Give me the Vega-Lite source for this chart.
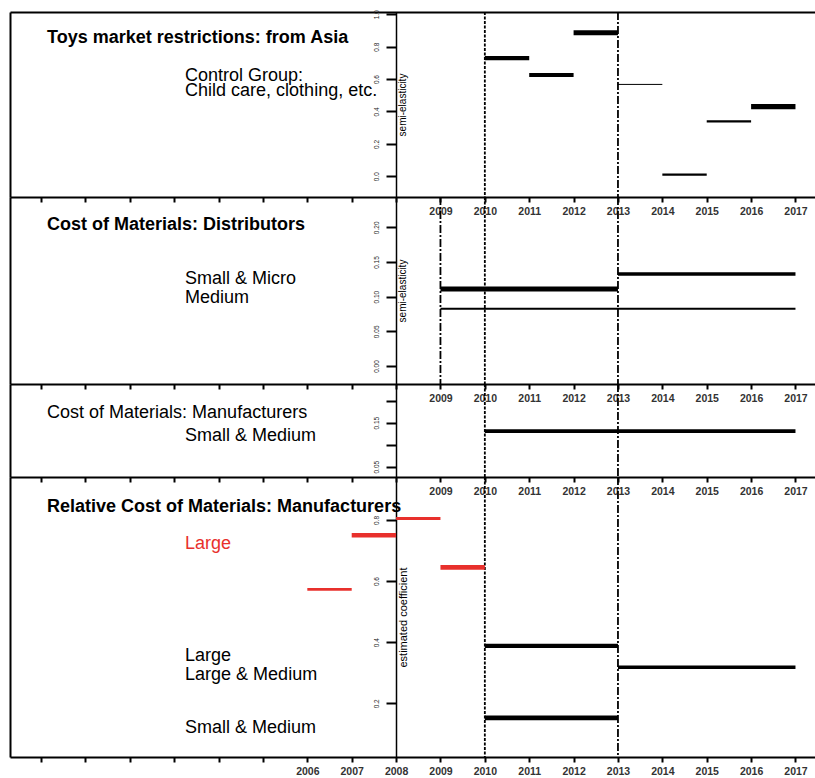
{
  "$schema": "https://vega.github.io/schema/vega-lite/v6.json",
  "padding": {"left": 10, "top": 9, "right": 0, "bottom": 0},
  "autosize": {"type": "pad"},
  "background": "white",
  "spacing": 0,
  "bounds": "flush",
  "config": {
    "view": {"stroke": null},
    "font": "Liberation Sans",
    "text": {"font": "Liberation Sans"},
    "axis": {"grid": false, "domainColor": "black", "tickColor": "black", "labelColor": "#222", "titleColor": "black", "labelFont": "Liberation Sans", "titleFont": "Liberation Sans"},
    "axisX": {"tickSize": 5, "tickWidth": 2, "domainWidth": 2, "labelFontSize": 10.5, "labelFontWeight": "bold", "labelColor": "#333", "labelPadding": 4, "labelFlush": false, "labelOverlap": false},
    "axisY": {"tickSize": 10, "tickWidth": 2, "domainWidth": 1.5, "labelFontSize": 6.5, "labelAngle": 270, "labelAlign": "center", "labelBaseline": "bottom", "labelPadding": 7, "labelOverlap": false, "labelFlush": false, "titleFontSize": 10, "titleFontWeight": "normal", "titleAngle": 270, "titleX": 1, "titleAlign": "center", "titleBaseline": "top"}
  },
  "datasets": {
    "segments": [
      {"panel": 1, "sample": "Toys from Asia", "start": 2010, "end": 2011, "estimate": 0.729, "precision": 4},
      {"panel": 1, "sample": "Toys from Asia", "start": 2011, "end": 2012, "estimate": 0.625, "precision": 4},
      {"panel": 1, "sample": "Toys from Asia", "start": 2012, "end": 2013, "estimate": 0.886, "precision": 5},
      {"panel": 1, "sample": "Toys from Asia", "start": 2013, "end": 2014, "estimate": 0.567, "precision": 1},
      {"panel": 1, "sample": "Toys from Asia", "start": 2014, "end": 2015, "estimate": 0.010, "precision": 2},
      {"panel": 1, "sample": "Toys from Asia", "start": 2015, "end": 2016, "estimate": 0.339, "precision": 2.2},
      {"panel": 1, "sample": "Toys from Asia", "start": 2016, "end": 2017, "estimate": 0.430, "precision": 5},
      {"panel": 2, "sample": "Small & Micro", "start": 2009, "end": 2013, "estimate": 0.111, "precision": 5},
      {"panel": 2, "sample": "Medium", "start": 2009, "end": 2017, "estimate": 0.0826, "precision": 2},
      {"panel": 2, "sample": "Small & Micro", "start": 2013, "end": 2017, "estimate": 0.1326, "precision": 3.5},
      {"panel": 3, "sample": "Small & Medium", "start": 2010, "end": 2017, "estimate": 0.131, "precision": 3.5},
      {"panel": 4, "sample": "Large (2006-2010)", "start": 2006, "end": 2007, "estimate": 0.573, "precision": 2.5},
      {"panel": 4, "sample": "Large (2006-2010)", "start": 2007, "end": 2008, "estimate": 0.750, "precision": 4.5},
      {"panel": 4, "sample": "Large (2006-2010)", "start": 2008, "end": 2009, "estimate": 0.805, "precision": 3},
      {"panel": 4, "sample": "Large (2006-2010)", "start": 2009, "end": 2010, "estimate": 0.645, "precision": 4.5},
      {"panel": 4, "sample": "Large", "start": 2010, "end": 2013, "estimate": 0.388, "precision": 4},
      {"panel": 4, "sample": "Large & Medium", "start": 2013, "end": 2017, "estimate": 0.318, "precision": 3.5},
      {"panel": 4, "sample": "Small & Medium", "start": 2010, "end": 2013, "estimate": 0.152, "precision": 4.5}
    ],
    "events": [
      {"panel": 1, "year": 2010, "event": "restriction"},
      {"panel": 1, "year": 2013, "event": "break"},
      {"panel": 2, "year": 2009, "event": "break"},
      {"panel": 2, "year": 2010, "event": "restriction"},
      {"panel": 2, "year": 2013, "event": "break"},
      {"panel": 3, "year": 2010, "event": "restriction"},
      {"panel": 3, "year": 2013, "event": "break"},
      {"panel": 4, "year": 2010, "event": "restriction"},
      {"panel": 4, "year": 2013, "event": "break"}
    ]
  },
  "vconcat": [
    {
      "width": 805, "height": 185,
      "resolve": {"axis": {"x": "independent", "y": "independent"}},
      "layer": [
        {
          "data": {"name": "events"},
          "transform": [{"filter": "datum.panel === 1"}],
          "mark": {"type": "rule", "strokeWidth": 1.8, "color": "black"},
          "encoding": {
            "x": {"field": "year", "type": "quantitative", "scale": {"domain": [1999.3, 2017.44], "nice": false, "zero": false},
              "axis": {"orient": "top", "ticks": false, "labels": false, "domain": true, "domainWidth": 2, "title": null}},
            "strokeDash": {"field": "event", "type": "nominal", "scale": {"domain": ["restriction", "break"], "range": [[3, 1.5], [8, 2, 2, 2]]}, "legend": null}
          }
        },
        {
          "data": {"name": "segments"},
          "transform": [{"filter": "datum.panel === 1"}],
          "mark": {"type": "rule", "strokeCap": "butt"},
          "encoding": {
            "x": {"field": "start", "type": "quantitative", "scale": {"domain": [1999.3, 2017.44], "nice": false, "zero": false},
              "axis": {"orient": "bottom", "title": null, "values": [2000,2001,2002,2003,2004,2005,2006,2007,2008,2009,2010,2011,2012,2013,2014,2015,2016,2017], "format": "d", "labelExpr": "datum.value >= 2009 ? datum.label : ''"}},
            "x2": {"field": "end"},
            "y": {"field": "estimate", "type": "quantitative", "scale": {"domain": [-0.128, 1.014], "nice": false, "zero": false},
              "axis": {"orient": "left", "offset": -386, "values": [0, 0.2, 0.4, 0.6, 0.8, 1.0], "format": ".1f", "title": "semi-elasticity", "titleY": 92.5}},
            "strokeWidth": {"field": "precision", "type": "quantitative", "scale": {"domain": [1, 5], "range": [1, 5.2]}, "legend": null},
            "color": {"condition": {"test": "datum.sample === 'Large (2006-2010)'", "value": "#e8302c"}, "value": "black"}
          }
        },
        {
          "data": {"values": [{}]},
          "mark": {"type": "text", "text": "Toys market restrictions: from Asia", "fontSize": 18, "fontWeight": "bold", "align": "left", "baseline": "alphabetic", "color": "black"},
          "encoding": {
            "x": {"datum": 2000.135, "type": "quantitative", "scale": {"domain": [1999.3, 2017.44], "nice": false, "zero": false}, "axis": null},
            "y": {"datum": 0.824, "type": "quantitative", "scale": {"domain": [-0.128, 1.014], "nice": false, "zero": false},
              "axis": {"orient": "left", "offset": 0, "ticks": false, "labels": false, "domain": true, "domainWidth": 2, "title": null}}
          }
        },
        {
          "data": {"values": [{}]},
          "mark": {"type": "text", "text": "Control Group:\nChild care, clothing, etc.", "lineBreak": "\n", "lineHeight": 15, "fontSize": 18, "align": "left", "baseline": "alphabetic", "color": "black"},
          "encoding": {
            "x": {"datum": 2003.245, "type": "quantitative", "scale": {"domain": [1999.3, 2017.44], "nice": false, "zero": false}, "axis": null},
            "y": {"datum": 0.585, "type": "quantitative", "scale": {"domain": [-0.128, 1.014], "nice": false, "zero": false}, "axis": null}
          }
        }
      ]
    },
    {
      "width": 805, "height": 187,
      "resolve": {"axis": {"x": "independent", "y": "independent"}},
      "layer": [
        {
          "data": {"name": "events"},
          "transform": [{"filter": "datum.panel === 2"}],
          "mark": {"type": "rule", "strokeWidth": 1.8, "color": "black"},
          "encoding": {
            "x": {"field": "year", "type": "quantitative", "scale": {"domain": [1999.3, 2017.44], "nice": false, "zero": false}, "axis": null},
            "strokeDash": {"field": "event", "type": "nominal", "scale": {"domain": ["restriction", "break"], "range": [[3, 1.5], [8, 2, 2, 2]]}, "legend": null}
          }
        },
        {
          "data": {"name": "segments"},
          "transform": [{"filter": "datum.panel === 2"}],
          "mark": {"type": "rule", "strokeCap": "butt"},
          "encoding": {
            "x": {"field": "start", "type": "quantitative", "scale": {"domain": [1999.3, 2017.44], "nice": false, "zero": false},
              "axis": {"orient": "bottom", "title": null, "values": [2000,2001,2002,2003,2004,2005,2006,2007,2008,2009,2010,2011,2012,2013,2014,2015,2016,2017], "format": "d", "labelExpr": "datum.value >= 2009 ? datum.label : ''"}},
            "x2": {"field": "end"},
            "y": {"field": "estimate", "type": "quantitative", "scale": {"domain": [-0.026, 0.2437], "nice": false, "zero": false},
              "axis": {"orient": "left", "offset": -386, "values": [0, 0.05, 0.1, 0.15, 0.2], "format": ".2f", "title": "semi-elasticity", "titleY": 93.5}},
            "strokeWidth": {"field": "precision", "type": "quantitative", "scale": {"domain": [1, 5], "range": [1, 5.2]}, "legend": null},
            "color": {"condition": {"test": "datum.sample === 'Large (2006-2010)'", "value": "#e8302c"}, "value": "black"}
          }
        },
        {
          "data": {"values": [{}]},
          "mark": {"type": "text", "text": "Cost of Materials: Distributors", "fontSize": 18, "fontWeight": "bold", "align": "left", "baseline": "alphabetic", "color": "black"},
          "encoding": {
            "x": {"datum": 2000.135, "type": "quantitative", "scale": {"domain": [1999.3, 2017.44], "nice": false, "zero": false}, "axis": null},
            "y": {"datum": 0.196, "type": "quantitative", "scale": {"domain": [-0.026, 0.2437], "nice": false, "zero": false},
              "axis": {"orient": "left", "offset": 0, "ticks": false, "labels": false, "domain": true, "domainWidth": 2, "title": null}}
          }
        },
        {
          "data": {"values": [{}]},
          "mark": {"type": "text", "text": "Small & Micro\nMedium", "lineBreak": "\n", "lineHeight": 19, "fontSize": 18, "align": "left", "baseline": "alphabetic", "color": "black"},
          "encoding": {
            "x": {"datum": 2003.245, "type": "quantitative", "scale": {"domain": [1999.3, 2017.44], "nice": false, "zero": false}, "axis": null},
            "y": {"datum": 0.1178, "type": "quantitative", "scale": {"domain": [-0.026, 0.2437], "nice": false, "zero": false}, "axis": null}
          }
        }
      ]
    },
    {
      "width": 805, "height": 93,
      "resolve": {"axis": {"x": "independent", "y": "independent"}},
      "layer": [
        {
          "data": {"name": "events"},
          "transform": [{"filter": "datum.panel === 3"}],
          "mark": {"type": "rule", "strokeWidth": 1.8, "color": "black"},
          "encoding": {
            "x": {"field": "year", "type": "quantitative", "scale": {"domain": [1999.3, 2017.44], "nice": false, "zero": false}, "axis": null},
            "strokeDash": {"field": "event", "type": "nominal", "scale": {"domain": ["restriction", "break"], "range": [[3, 1.5], [8, 2, 2, 2]]}, "legend": null}
          }
        },
        {
          "data": {"name": "segments"},
          "transform": [{"filter": "datum.panel === 3"}],
          "mark": {"type": "rule", "strokeCap": "butt"},
          "encoding": {
            "x": {"field": "start", "type": "quantitative", "scale": {"domain": [1999.3, 2017.44], "nice": false, "zero": false},
              "axis": {"orient": "bottom", "title": null, "values": [2000,2001,2002,2003,2004,2005,2006,2007,2008,2009,2010,2011,2012,2013,2014,2015,2016,2017], "format": "d", "labelExpr": "datum.value >= 2009 ? datum.label : ''"}},
            "x2": {"field": "end"},
            "y": {"field": "estimate", "type": "quantitative", "scale": {"domain": [0.0266, 0.238], "nice": false, "zero": false},
              "axis": {"orient": "left", "offset": -386, "values": [0.05, 0.1, 0.15, 0.2], "format": ".2f", "labelExpr": "(datum.value === 0.05 || datum.value === 0.15) ? datum.label : ''", "title": null}},
            "strokeWidth": {"field": "precision", "type": "quantitative", "scale": {"domain": [1, 5], "range": [1, 5.2]}, "legend": null},
            "color": {"condition": {"test": "datum.sample === 'Large (2006-2010)'", "value": "#e8302c"}, "value": "black"}
          }
        },
        {
          "data": {"values": [{}]},
          "mark": {"type": "text", "text": "Cost of Materials: Manufacturers", "fontSize": 18, "align": "left", "baseline": "alphabetic", "color": "black"},
          "encoding": {
            "x": {"datum": 2000.135, "type": "quantitative", "scale": {"domain": [1999.3, 2017.44], "nice": false, "zero": false}, "axis": null},
            "y": {"datum": 0.1614, "type": "quantitative", "scale": {"domain": [0.0266, 0.238], "nice": false, "zero": false},
              "axis": {"orient": "left", "offset": 0, "ticks": false, "labels": false, "domain": true, "domainWidth": 2, "title": null}}
          }
        },
        {
          "data": {"values": [{}]},
          "mark": {"type": "text", "text": "Small & Medium", "fontSize": 18, "align": "left", "baseline": "alphabetic", "color": "black"},
          "encoding": {
            "x": {"datum": 2003.245, "type": "quantitative", "scale": {"domain": [1999.3, 2017.44], "nice": false, "zero": false}, "axis": null},
            "y": {"datum": 0.108, "type": "quantitative", "scale": {"domain": [0.0266, 0.238], "nice": false, "zero": false}, "axis": null}
          }
        }
      ]
    },
    {
      "width": 805, "height": 280,
      "resolve": {"axis": {"x": "independent", "y": "independent"}},
      "layer": [
        {
          "data": {"name": "events"},
          "transform": [{"filter": "datum.panel === 4"}],
          "mark": {"type": "rule", "strokeWidth": 1.8, "color": "black"},
          "encoding": {
            "x": {"field": "year", "type": "quantitative", "scale": {"domain": [1999.3, 2017.44], "nice": false, "zero": false}, "axis": null},
            "strokeDash": {"field": "event", "type": "nominal", "scale": {"domain": ["restriction", "break"], "range": [[3, 1.5], [8, 2, 2, 2]]}, "legend": null}
          }
        },
        {
          "data": {"name": "segments"},
          "transform": [{"filter": "datum.panel === 4"}],
          "mark": {"type": "rule", "strokeCap": "butt"},
          "encoding": {
            "x": {"field": "start", "type": "quantitative", "scale": {"domain": [1999.3, 2017.44], "nice": false, "zero": false},
              "axis": {"orient": "bottom", "title": null, "values": [2000,2001,2002,2003,2004,2005,2006,2007,2008,2009,2010,2011,2012,2013,2014,2015,2016,2017], "format": "d", "labelExpr": "datum.value >= 2006 ? datum.label : ''"}},
            "x2": {"field": "end"},
            "y": {"field": "estimate", "type": "quantitative", "scale": {"domain": [0.0242, 0.9408], "nice": false, "zero": false},
              "axis": {"orient": "left", "offset": -386, "values": [0.2, 0.4, 0.6, 0.8], "format": ".1f", "title": "estimated coefficient", "titleFontSize": 11, "titleY": 140}},
            "strokeWidth": {"field": "precision", "type": "quantitative", "scale": {"domain": [1, 5], "range": [1, 5.2]}, "legend": null},
            "color": {"condition": {"test": "datum.sample === 'Large (2006-2010)'", "value": "#e8302c"}, "value": "black"}
          }
        },
        {
          "data": {"values": [{}]},
          "mark": {"type": "text", "text": "Relative Cost of Materials: Manufacturers", "fontSize": 18, "fontWeight": "bold", "align": "left", "baseline": "alphabetic", "color": "black"},
          "encoding": {
            "x": {"datum": 2000.135, "type": "quantitative", "scale": {"domain": [1999.3, 2017.44], "nice": false, "zero": false}, "axis": null},
            "y": {"datum": 0.827, "type": "quantitative", "scale": {"domain": [0.0242, 0.9408], "nice": false, "zero": false},
              "axis": {"orient": "left", "offset": 0, "ticks": false, "labels": false, "domain": true, "domainWidth": 2, "title": null}}
          }
        },
        {
          "data": {"values": [{}]},
          "mark": {"type": "text", "text": "Large", "fontSize": 18, "align": "left", "baseline": "alphabetic", "color": "#e8302c"},
          "encoding": {
            "x": {"datum": 2003.245, "type": "quantitative", "scale": {"domain": [1999.3, 2017.44], "nice": false, "zero": false}, "axis": null},
            "y": {"datum": 0.705, "type": "quantitative", "scale": {"domain": [0.0242, 0.9408], "nice": false, "zero": false}, "axis": null}
          }
        },
        {
          "data": {"values": [{}]},
          "mark": {"type": "text", "text": "Large\nLarge & Medium", "lineBreak": "\n", "lineHeight": 19, "fontSize": 18, "align": "left", "baseline": "alphabetic", "color": "black"},
          "encoding": {
            "x": {"datum": 2003.245, "type": "quantitative", "scale": {"domain": [1999.3, 2017.44], "nice": false, "zero": false}, "axis": null},
            "y": {"datum": 0.338, "type": "quantitative", "scale": {"domain": [0.0242, 0.9408], "nice": false, "zero": false}, "axis": null}
          }
        },
        {
          "data": {"values": [{}]},
          "mark": {"type": "text", "text": "Small & Medium", "fontSize": 18, "align": "left", "baseline": "alphabetic", "color": "black"},
          "encoding": {
            "x": {"datum": 2003.245, "type": "quantitative", "scale": {"domain": [1999.3, 2017.44], "nice": false, "zero": false}, "axis": null},
            "y": {"datum": 0.103, "type": "quantitative", "scale": {"domain": [0.0242, 0.9408], "nice": false, "zero": false}, "axis": null}
          }
        }
      ]
    }
  ]
}
